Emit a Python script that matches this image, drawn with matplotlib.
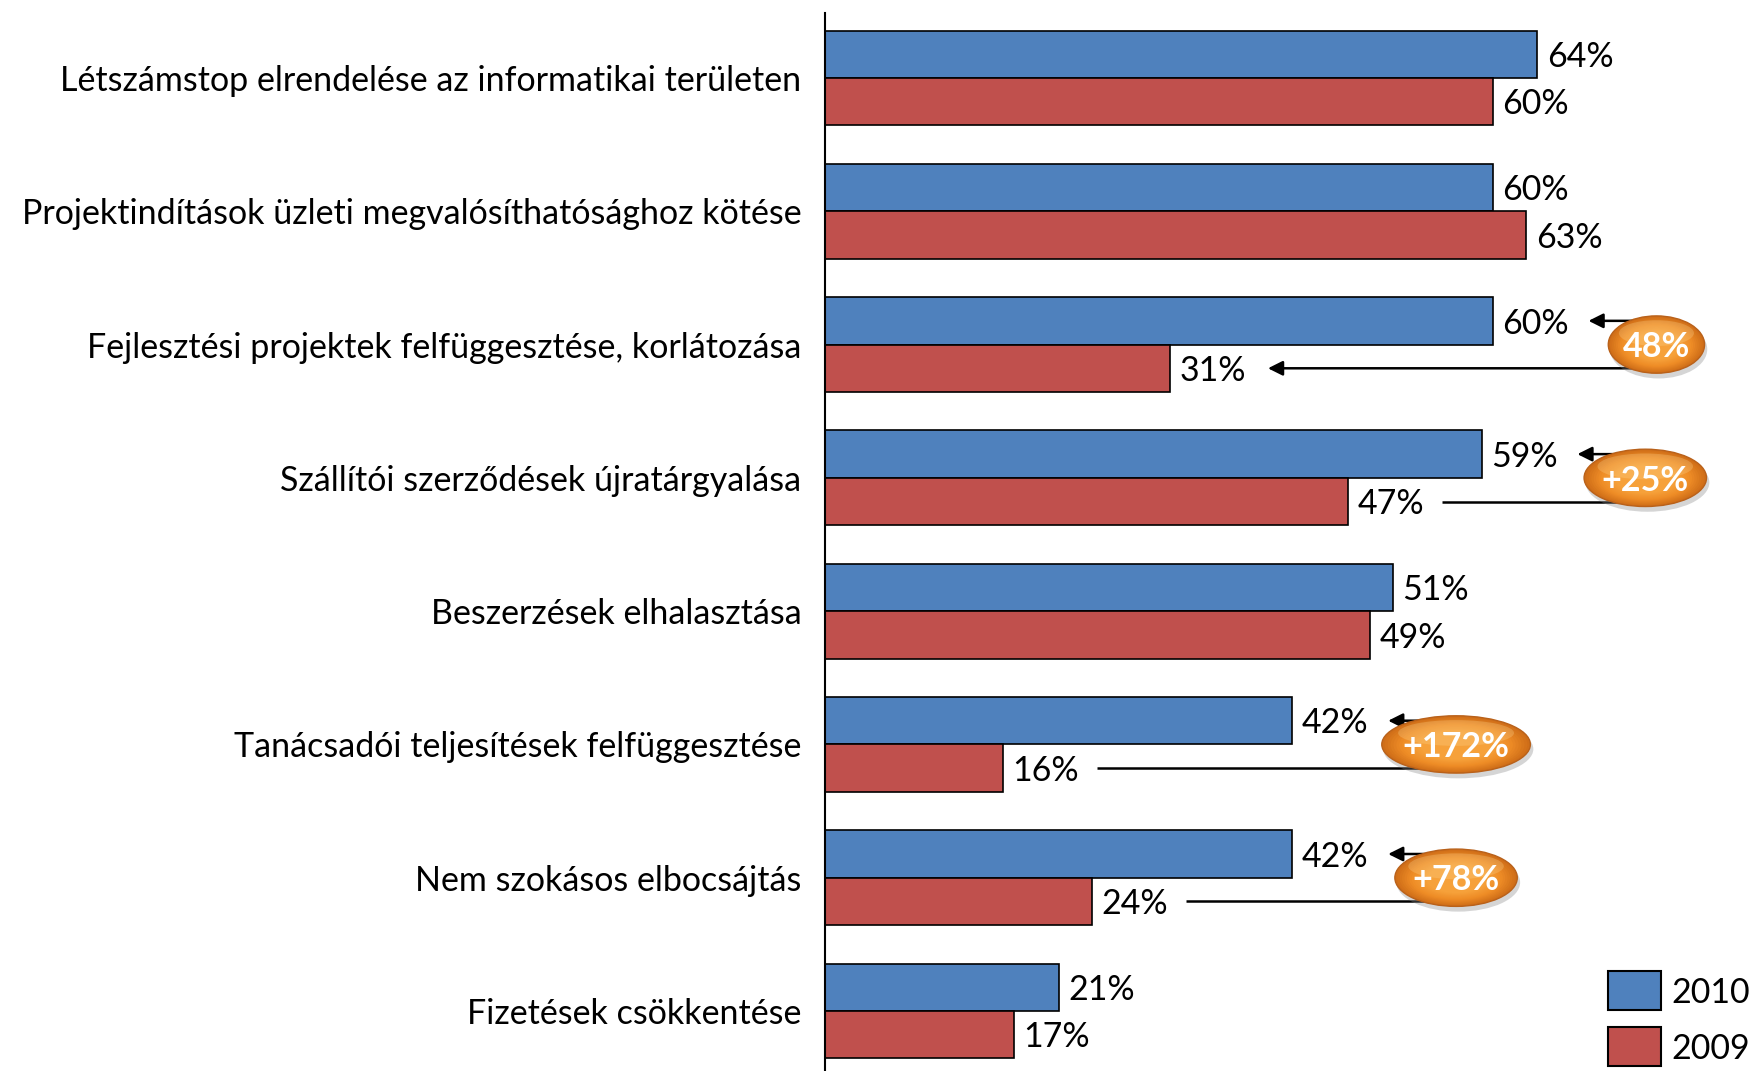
import matplotlib
matplotlib.use('Agg')
import matplotlib.pyplot as plt
from matplotlib.colors import LinearSegmentedColormap
from matplotlib.patches import Ellipse, Rectangle
import numpy as np

# Data
categories = [
    'Létszámstop elrendelése az informatikai területen',
    'Projektindítások üzleti megvalósíthatósághoz kötése',
    'Fejlesztési projektek felfüggesztése, korlátozása',
    'Szállítói szerződések újratárgyalása',
    'Beszerzések elhalasztása',
    'Tanácsadói teljesítések felfüggesztése',
    'Nem szokásos elbocsájtás',
    'Fizetések csökkentése',
]
values_2010 = [64, 60, 60, 59, 51, 42, 42, 21]
values_2009 = [60, 63, 31, 47, 49, 16, 24, 17]
series_names = ['2010', '2009']

# Change bubbles: category index, text, whether the 2009 line has an arrow too
bubble_rows = [2, 3, 5, 6]
bubble_texts = ['48%', '+25%', '+172%', '+78%']
bubble_red_arrow = [True, False, False, False]

BLUE = '#4F81BD'
RED = '#C0504D'
FONT = 'Lato'
FS = 24.5

plt.rcParams['font.family'] = [FONT, 'DejaVu Sans']

fig = plt.figure(figsize=(17.5, 10.71), dpi=100)
W, H = 1750, 1071
ax_left, ax_right = 825, 1750
ax_top, ax_bottom = 13, 1071
ax = fig.add_axes([ax_left / W, 1 - ax_bottom / H, (ax_right - ax_left) / W, (ax_bottom - ax_top) / H])

px_per_pct = 11.13
ax.set_xlim(0, (ax_right - ax_left) / px_per_pct)
ax.set_ylim(7.45, -0.4875)

y = np.arange(len(categories))
bh = 0.356
ax.barh(y - bh / 2, values_2010, height=bh, color=BLUE, edgecolor='black', linewidth=1.2, label=series_names[0])
ax.barh(y + bh / 2, values_2009, height=bh, color=RED, edgecolor='black', linewidth=1.2, label=series_names[1])

for i in range(len(categories)):
    ax.text(values_2010[i] + 0.85, y[i] - bh / 2 + 0.02, f'{values_2010[i]}%', va='center', ha='left', fontsize=FS)
    ax.text(values_2009[i] + 0.85, y[i] + bh / 2 + 0.02, f'{values_2009[i]}%', va='center', ha='left', fontsize=FS)

ax.set_yticks(y)
ax.set_yticklabels(categories, fontsize=FS)
ax.tick_params(axis='y', length=0, pad=17)
ax.set_xticks([])
for s in ['top', 'right', 'bottom']:
    ax.spines[s].set_visible(False)
ax.spines['left'].set_linewidth(1.5)

# Connector lines and bubbles
body = LinearSegmentedColormap.from_list('o', ['#CF6E18', '#EE8C26', '#F6A13A'])
for row, txt, red_arrow in zip(bubble_rows, bubble_texts, bubble_red_arrow):
    b, r = values_2010[row], values_2009[row]
    yb, yr = y[row] - bh / 2, y[row] + bh / 2
    cx = b + 14.7
    ax.annotate('', xy=(b + 8.6, yb), xytext=(cx, yb),
                arrowprops=dict(arrowstyle='-|>', color='black', lw=1.8, mutation_scale=22, shrinkA=0, shrinkB=0))
    if red_arrow:
        ax.annotate('', xy=(r + 8.8, yr), xytext=(cx, yr),
                    arrowprops=dict(arrowstyle='-|>', color='black', lw=1.8, mutation_scale=22, shrinkA=0, shrinkB=0))
    else:
        ax.plot([r + 8.4, cx], [yr, yr], color='black', lw=1.8, solid_capstyle='butt')

    ew = 1.6 + 2.35 * len(txt)
    eh = 0.43
    # shadow
    ax.add_patch(Ellipse((cx + 0.2, y[row] + 0.035), ew * 1.01, eh * 1.02, facecolor='#888888', alpha=0.35,
                         edgecolor='none', zorder=4))
    # gradient body
    n = 14
    for k in range(n):
        f = 1 - 0.55 * k / n
        ax.add_patch(Ellipse((cx, y[row] + 0.02 * (1 - f)), ew * f, eh * f,
                             facecolor=body(k / (n - 1)), edgecolor='none', zorder=5))
    ax.add_patch(Ellipse((cx, y[row]), ew, eh, facecolor='none', edgecolor='#B9611A', lw=1, zorder=6))
    ax.add_patch(Ellipse((cx, y[row] - eh * 0.2), ew * 0.78, eh * 0.45, facecolor='#FFE0A0', alpha=0.25,
                         edgecolor='none', zorder=6))
    ax.text(cx, y[row] + 0.02, txt, ha='center', va='center', color='white', fontsize=FS, fontweight='bold', zorder=7)

# Legend
fig.patches.append(Rectangle((1608 / W, 1 - 1010 / H), 53 / W, 39 / H, transform=fig.transFigure,
                             facecolor=BLUE, edgecolor='black', linewidth=1.5))
fig.patches.append(Rectangle((1608 / W, 1 - 1066 / H), 53 / W, 39 / H, transform=fig.transFigure,
                             facecolor=RED, edgecolor='black', linewidth=1.5))
fig.text(1671 / W, 1 - 993 / H, series_names[0], va='center', ha='left', fontsize=FS)
fig.text(1671 / W, 1 - 1049 / H, series_names[1], va='center', ha='left', fontsize=FS)

fig.savefig('out.png', dpi=100)
